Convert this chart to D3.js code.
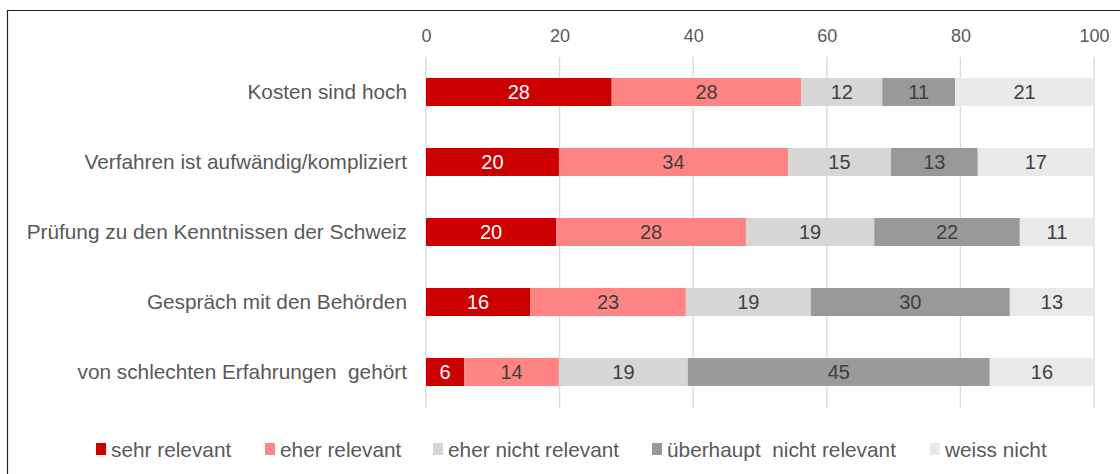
<!DOCTYPE html>
<html><head><meta charset="utf-8">
<script src="https://cdn.jsdelivr.net/npm/d3@7"></script>
<style>body{margin:0;background:#fff}svg{display:block}text{font-family:"Liberation Sans",Arial,sans-serif;white-space:pre}</style>
</head><body><svg id="c" width="1120" height="474"></svg>
<script>
const categories = ["Kosten sind hoch","Verfahren ist aufwändig/kompliziert","Prüfung zu den Kenntnissen der Schweiz","Gespräch mit den Behörden","von schlechten Erfahrungen  gehört"];
const seriesNames = ["sehr relevant","eher relevant","eher nicht relevant","überhaupt  nicht relevant","weiss nicht"];
const sehrRelevant = [27.8,19.9,19.5,15.6,5.7];
const eherRelevant = [28.4,34.3,28.4,23.3,14.2];
const eherNicht = [12.1,15.4,19.2,18.7,19.3];
const ueberhauptNicht = [10.9,13.0,21.8,29.8,45.2];
const weissNicht = [20.8,17.4,11.1,12.6,15.6];
const tickValues = [0,20,40,60,80,100];
const colors = ["#cc0000","#ff8585","#d6d6d6","#999999","#e9e9e9"];
const labelColors = ["#ffffff","#404040","#404040","#404040","#404040"];

const series = [sehrRelevant,eherRelevant,eherNicht,ueberhauptNicht,weissNicht];
const rows = categories.map((c,i)=>{const o={cat:c};seriesNames.forEach((s,j)=>o[s]=series[j][i]);return o;});
const stacked = d3.stack().keys(seriesNames)(rows);

const svg = d3.select("#c");
svg.append("path").attr("d","M7.5,474 V10.5 H1120").attr("fill","none").attr("stroke","#222").attr("stroke-width",1.2);

const x = d3.scaleLinear().domain([0,100]).range([426,1094]);
const y = d3.scaleBand().domain(categories).range([57,407]).paddingInner(0.6).paddingOuter(0.3);

svg.append("g").selectAll("line").data(tickValues).join("line")
  .attr("x1",d=>x(d)).attr("x2",d=>x(d)).attr("y1",57).attr("y2",408)
  .attr("stroke","#d9d9d9").attr("stroke-width",1.3);

const xAxis = svg.append("g").attr("transform","translate(0,42)")
  .call(d3.axisTop(x).tickValues(tickValues).tickSize(0).tickPadding(0));
xAxis.select(".domain").remove();
xAxis.selectAll("text").attr("font-size",18).attr("fill","#595959").attr("font-family","Liberation Sans, Arial, sans-serif");

const yAxis = svg.append("g").attr("transform","translate(407,0)")
  .call(d3.axisLeft(y).tickSize(0).tickPadding(0));
yAxis.select(".domain").remove();
yAxis.selectAll("text").attr("font-size",20.8).attr("fill","#595959").attr("font-family","Liberation Sans, Arial, sans-serif");

const g = svg.append("g");
stacked.forEach((s,j)=>{
  const gg = g.append("g");
  gg.selectAll("rect").data(s).join("rect")
    .attr("x",d=>x(d[0])).attr("width",d=>x(d[1])-x(d[0]))
    .attr("y",d=>y(d.data.cat)).attr("height",y.bandwidth())
    .attr("fill",colors[j]);
  gg.selectAll("text").data(s).join("text")
    .attr("x",d=>(x(d[0])+x(d[1]))/2).attr("y",d=>y(d.data.cat)+y.bandwidth()/2)
    .attr("dy","0.36em").attr("text-anchor","middle").attr("font-size",20)
    .attr("fill",labelColors[j]).text(d=>d3.format(".0f")(d[1]-d[0]));
});

const legendX = [96,265,433,652,930];
const lg = svg.append("g");
seriesNames.forEach((n,j)=>{
  lg.append("rect").attr("x",legendX[j]).attr("y",443).attr("width",10).attr("height",12).attr("fill",colors[j]);
  lg.append("text").attr("x",legendX[j]+15).attr("y",449.5).attr("dy","0.36em")
    .attr("font-size",20.8).attr("fill","#595959").text(n);
});
</script></body></html>
